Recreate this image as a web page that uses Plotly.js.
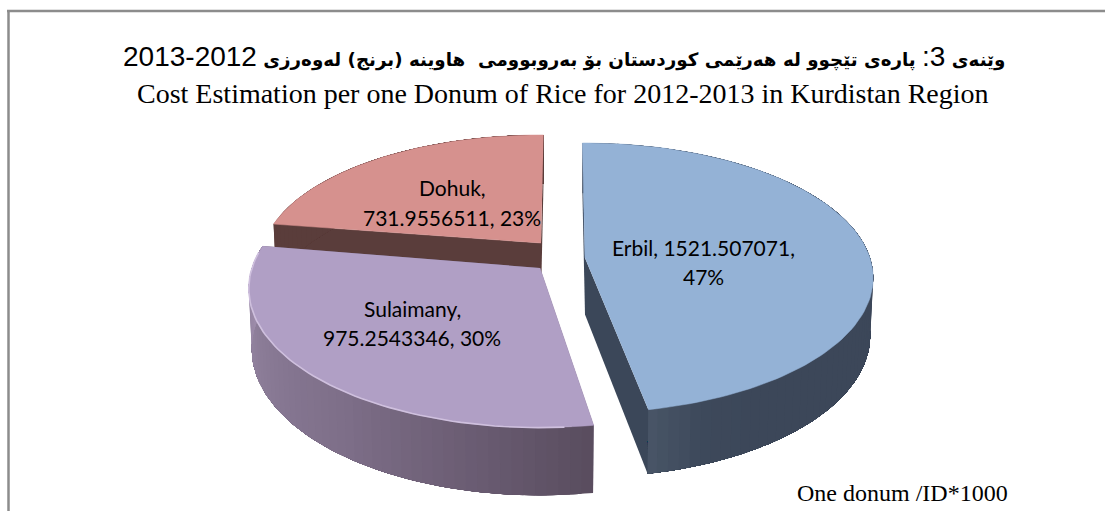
<!DOCTYPE html>
<html><head><meta charset="utf-8">
<script src="https://cdn.plot.ly/plotly-3.0.1.min.js"></script>
<style>html,body{margin:0;padding:0;background:#fff}</style></head>
<body><div id="chart" style="width:1105px;height:511px"></div>
<script>
const categories = ["Erbil", "Sulaimany", "Dohuk"];
const values = [1521.507071, 975.2543346, 731.9556511];
const percents = [47, 30, 23];
const titleKurdish = "2012-2013";
const titleEnglish = "Cost Estimation per one Donum of Rice for 2012-2013 in Kurdistan Region";
const unitNote = "One donum /ID*1000";

const total = values.reduce((a, b) => a + b, 0);
const starts = [], ends = [];
let cum = 0;
values.forEach(v => { starts.push(cum / total * 360); cum += v; ends.push(cum / total * 360); });

/* projection of each exploded slice: apex, radii, perspective, depth, rotation */
const geo = {
  Erbil:     {cx: 585, cy: 258, A: 285, B: 132, k: 0.148, D: 57, rot: -0.6},
  Sulaimany: {cx: 540, cy: 268, A: 288, B: 136, k: 0.148, D: 60, rot: 1.2},
  Dohuk:     {cx: 541, cy: 243, A: 277, B: 124, k: 0.148, D: 55, rot: 0.6}
};
const topColor = {Erbil: "#94b2d6", Sulaimany: "#b09fc5", Dohuk: "#d6918e"};
const cutColor = {Erbil: "#3b4759", Sulaimany: "#6b5d75", Dohuk: "#5a3d3b"};
const wallStops = {
  Erbil: [[0, "#3b4759"], [150, "#3c4759"], [160, "#3d495b"], [172, "#4b5869"]],
  Sulaimany: [[170, "#594d5e"], [190, "#6a5c72"], [215, "#7d6e88"], [245, "#8b7c97"], [282, "#a593b3"]],
  Dohuk: [[278, "#5a3d3b"], [360, "#5a3d3b"]]
};
const hex = c => [1, 3, 5].map(i => parseInt(c.substr(i, 2), 16));
function wallColor(name, a) {
  const s = wallStops[name];
  for (let i = 0; i < s.length - 1; i++) {
    if (a <= s[i + 1][0]) {
      const t = Math.max(0, (a - s[i][0]) / (s[i + 1][0] - s[i][0]));
      const p = hex(s[i][1]), q = hex(s[i + 1][1]);
      return "rgb(" + p.map((v, j) => Math.round(v + (q[j] - v) * t)).join(",") + ")";
    }
  }
  return s[s.length - 1][1];
}
function proj(g, deg, r, down) {
  const t = (deg + g.rot) * Math.PI / 180, x = r * Math.sin(t), z = r * Math.cos(t);
  const w = 1 + g.k * z + (down ? 0.01 : 0);
  return [g.cx + g.A * x / w, g.cy - (g.B * z - (down ? g.D : 0)) / w];
}
function poly(pts, fill, lineCol, lw) {
  return {type: "scatter", mode: "lines", x: pts.map(p => p[0]), y: pts.map(p => p[1]),
    fill: "toself", fillcolor: fill, line: {color: lineCol || fill, width: lw === undefined ? 0 : lw},
    hoverinfo: "skip", showlegend: false};
}
function arc(g, a0, a1, r, down) {
  const n = Math.max(4, Math.ceil(Math.abs(a1 - a0) / 1.5)), out = [];
  for (let i = 0; i <= n; i++) out.push(proj(g, a0 + (a1 - a0) * i / n, r, down));
  return out;
}
function sliceTraces(i) {
  const name = categories[i], g = geo[name], a0 = starts[i], a1 = ends[i], tr = [];
  const apex = proj(g, 0, 0, false), apexB = proj(g, 0, 0, true);
  /* flat cut walls */
  [a0, a1].forEach(a => tr.push(poly([apex, proj(g, a, 1, false), proj(g, a, 1, true), apexB], cutColor[name])));
  /* curved outer wall, painted from one end with overlapping bands so no seams show */
  const step = 2;
  for (let a = a0; a < a1; a += step) {
    const c = wallColor(name, a + step / 2);
    tr.push(poly(arc(g, a, a1, 1, false).concat(arc(g, a1, a, 1, true)), c));
  }
  /* top face */
  tr.push(poly([apex].concat(arc(g, a0, a1, 1, false)), topColor[name], topColor[name], 0.5));
  return tr;
}
const rim = arc(geo.Sulaimany, starts[1] + 5, ends[1] - 3, 1, false);
const traces = [].concat(sliceTraces(2), sliceTraces(1), sliceTraces(0), [{
  type: "scatter", mode: "lines", x: rim.map(p => p[0]), y: rim.map(p => p[1]),
  line: {color: "#cfc0de", width: 1.6}, hoverinfo: "skip", showlegend: false
}]);

const ar = "DejaVu Sans", lab = "Lato, Carlito, sans-serif", serif = "Liberation Serif, serif";
const big = s => "<span style='font-family:Liberation Sans;font-size:28px'>" + s + "</span>";
const kurdish = "<b>وێنەی </b>" + big("3") + big(":") + "<b> پارەی تێچوو لە هەرێمی کوردستان بۆ بەروبوومی  هاوینە (برنج) لەوەرزی </b>" + big(titleKurdish);
const note = (x, y, text, size, family) => ({xref: "x", yref: "y", x, y, text, showarrow: false,
  xanchor: "center", yanchor: "middle", font: {size, family, color: "#000"}});
const labelPos = {Erbil: [703, 247, 276], Sulaimany: [412, 308, 337], Dohuk: [452, 187, 217]};
const annotations = [
  note(564, 56, kurdish, 18.3, ar),
  note(563, 93, titleEnglish, 28, serif),
  note(902, 493, unitNote, 24, serif)
];
categories.forEach((c, i) => {
  const p = labelPos[c];
  const v = String(values[i]);
  const lines = c === "Erbil" ? [c + ", " + v + ",", percents[i] + "%"] : [c + ",", v + ", " + percents[i] + "%"];
  annotations.push(note(p[0], p[1], lines[0], 21, lab), note(p[0], p[2], lines[1], 21, lab));
});
const frame = [
  {type: "line", xref: "x", yref: "y", x0: 8.5, x1: 8.5, y0: 10, y1: 511, line: {color: "#8c8c8c", width: 2.5}},
  {type: "line", xref: "x", yref: "y", x0: 7, x1: 1105, y0: 11, y1: 11, line: {color: "#8c8c8c", width: 2.5}}
];
const hidden = r => ({range: r, visible: false, fixedrange: true, showgrid: false, zeroline: false});
Plotly.newPlot("chart", traces, {
  width: 1105, height: 511, margin: {l: 0, r: 0, t: 0, b: 0},
  paper_bgcolor: "#fff", plot_bgcolor: "#fff", showlegend: false,
  xaxis: hidden([0, 1105]), yaxis: hidden([511, 0]),
  annotations, shapes: frame
}, {displayModeBar: false, staticPlot: true});
</script></body></html>
